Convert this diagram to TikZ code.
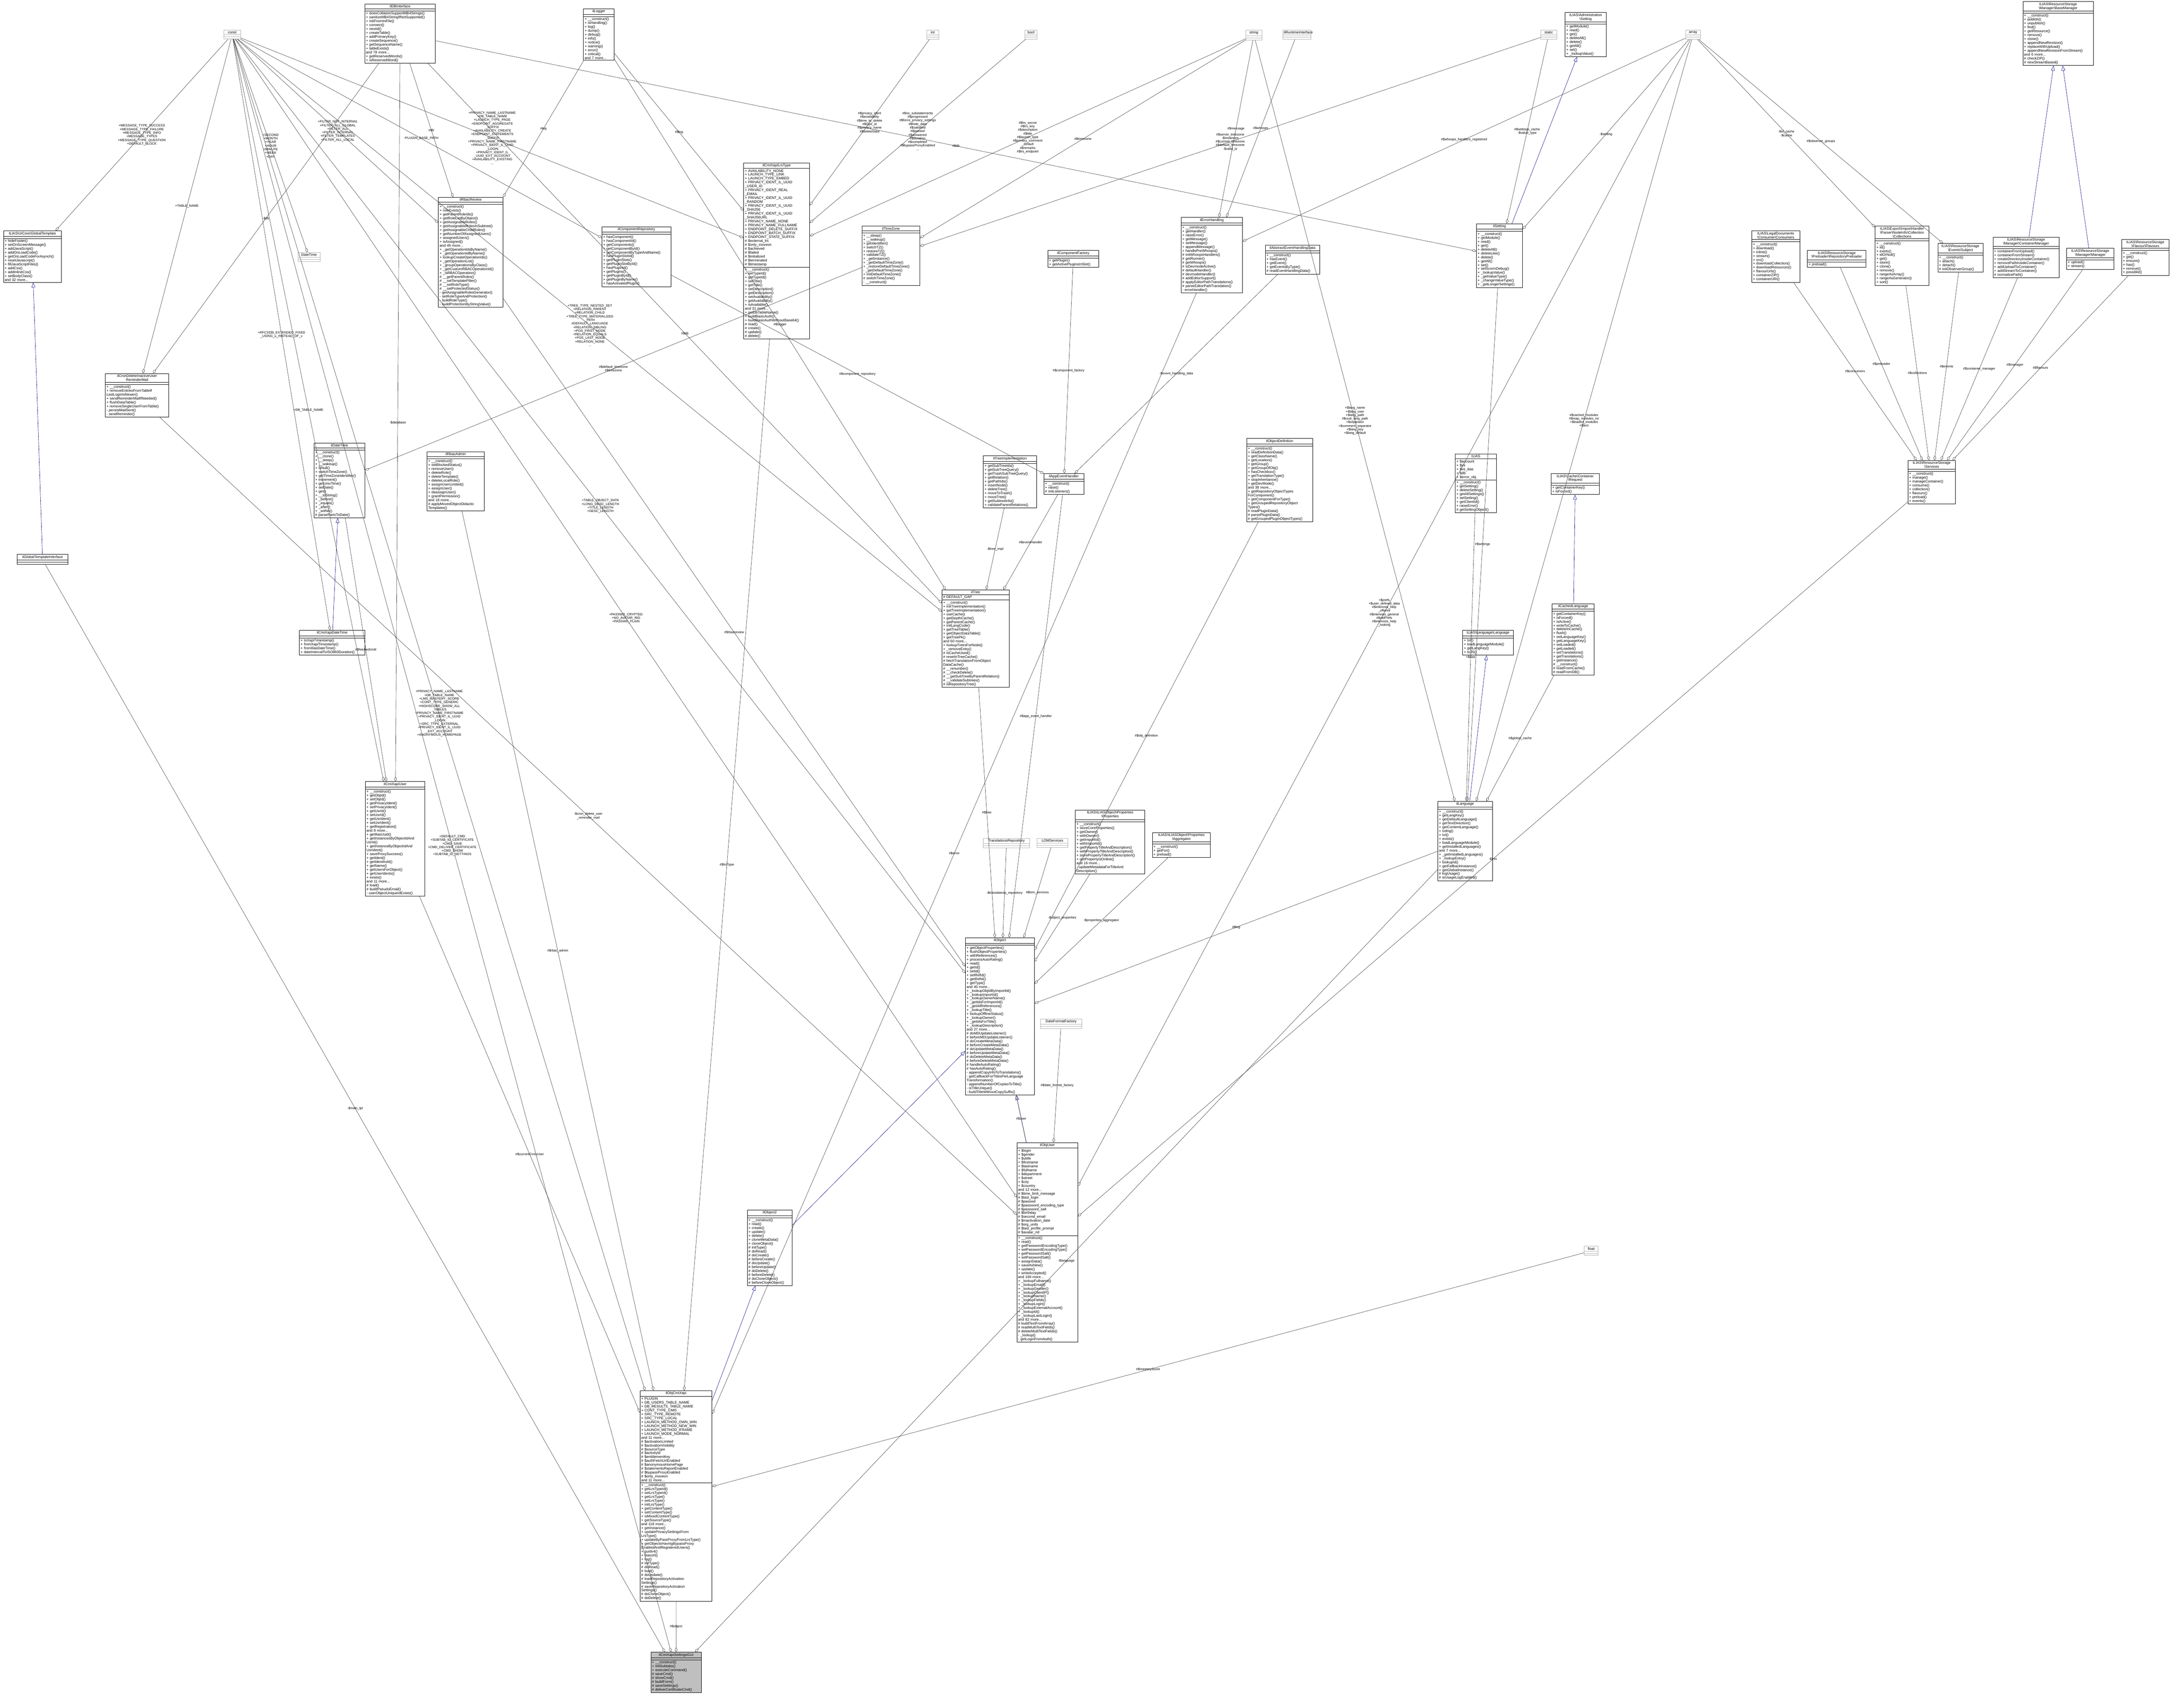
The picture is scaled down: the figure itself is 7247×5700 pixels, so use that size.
\documentclass[tikz,border=0pt]{standalone}
\usepackage{fontspec}
\setmainfont{Liberation Sans}
\usetikzlibrary{shapes.multipart,arrows.meta}
\tikzset{
  x=1pt,y=1pt,
  cls/.style={rectangle split, rectangle split parts=3, draw=black, line width=1.2pt,
    font=\fontsize{12}{13}\selectfont, align=left, inner xsep=4pt, inner ysep=3pt,
    rectangle split empty part height=12pt, anchor=north west, fill=white},
  grayc/.style={draw=gray!60},
  focus/.style={fill=gray!50},
  aggr/.style={draw=black!80, line width=0.9pt, -{Diamond[open,length=16pt,width=9pt]}},
  inh/.style={draw=blue!50!black, line width=0.9pt, -{Triangle[open,length=16pt,width=12pt]}},
  lbl/.style={font=\fontsize{11}{12}\selectfont, align=center, text=black},
}
\newcommand{\cbox}[8][]{\node[cls,#1,text width=#5-8] (#2) at (#3,-#4) {{\centering #6\par}\nodepart{two}#7\nodepart{three}#8};}
\newcommand{\agg}[4][]{\draw[aggr,#1] (#2) -- node[lbl]{#4} (#3);}
\newcommand{\inhe}[2]{\draw[inh] (#1) -- (#2);}
\begin{document}
\begin{tikzpicture}
\useasboundingbox (0,0) rectangle (7247,-5700);
% ---- top row primitives ----
\cbox[grayc]{const}{746}{100}{57}{const}{}{}
\cbox[grayc]{int}{3093}{100}{40}{int}{}{}
\cbox[grayc]{bool}{3421}{100}{40}{bool}{}{}
\cbox[grayc]{string}{4158}{100}{54}{string}{}{}
\cbox[grayc]{runtime}{4281}{100}{94}{ilRuntimeInterface}{}{}
\cbox[grayc]{static}{5142}{100}{54}{static}{}{}
\cbox[grayc]{array}{5626}{100}{50}{array}{}{}
\cbox{dbi}{1217}{13}{236}{ilDBInterface}{}{+ doesCollationSupportMB4Strings()\\+ sanitizeMB4StringIfNotSupported()\\+ initFromIniFile()\\+ connect()\\+ nextId()\\+ createTable()\\+ addPrimaryKey()\\+ createSequence()\\+ getSequenceName()\\+ tableExists()\\and 78 more...\\+ getReservedWords()\\+ isReservedWord()}
\cbox{logger}{1947}{29}{103}{ilLogger}{}{+ \_\_construct()\\+ isHandling()\\+ log()\\+ dump()\\+ debug()\\+ info()\\+ notice()\\+ warning()\\+ error()\\+ critical()\\and 7 more...}
\cbox{admset}{5224}{41}{137}{ILIAS\textbackslash Administration\\\textbackslash Setting}{}{+ getModule()\\+ read()\\+ get()\\+ deleteAll()\\+ delete()\\+ getAll()\\+ set()\\+ \_lookupValue()}
\cbox{basemgr}{6752}{5}{235}{ILIAS\textbackslash ResourceStorage\\\textbackslash Manager\textbackslash BaseManager}{}{+ \_\_construct()\\+ publish()\\+ unpublish()\\+ find()\\+ getResource()\\+ remove()\\+ clone()\\+ appendNewRevision()\\+ replaceWithUpload()\\+ appendNewRevisionFromStream()\\and 6 more...\\\# checkZIP()\\\# newStreamBased()}
% ---- second row ----
\cbox{gtpl}{11}{770}{193}{ILIAS\textbackslash UICore\textbackslash GlobalTemplate}{}{+ hideFooter()\\+ setOnScreenMessage()\\+ addJavaScript()\\+ addOnLoadCode()\\+ getOnLoadCodeForAsynch()\\+ resetJavascript()\\+ fillJavaScriptFiles()\\+ addCss()\\+ addInlineCss()\\+ setBodyClass()\\and 32 more...}
\cbox{cron}{351}{1246}{212}{ilCronDeleteInactiveUser\\ReminderMail}{}{+ \_\_construct()\\+ removeEntriesFromTableIf\\LastLoginIsNewer()\\+ sendReminderMailIfNeeded()\\+ flushDataTable()\\+ removeSingleUserFromTable()\\- persistMailSent()\\- sendReminder()}
\cbox[grayc]{datetime}{994}{842}{74}{DateTime}{}{}
\cbox{rbacreview}{1463}{658}{215}{ilRbacReview}{}{+ \_\_construct()\\+ roleExists()\\+ getParentRoleIds()\\+ getRoleListByObject()\\+ getAssignableRoles()\\+ getAssignableRolesInSubtree()\\+ getAssignableChildRoles()\\+ getNumberOfAssignedUsers()\\+ assignedUsers()\\+ isAssigned()\\and 49 more...\\+ \_getOperationIdsByName()\\+ \_getOperationIdByName()\\+ lookupCreateOperationIds()\\+ \_getOperationList()\\+ \_groupOperationsByClass()\\+ \_getCustomRBACOperationId()\\+ \_isRBACOperation()\\\# \_\_getParentRoles()\\\# \_\_setTemplateFilter()\\\# \_\_setRoleType()\\\# \_\_setProtectedStatus()\\- getAssignableRolesGenerator()\\- setRoleTypeAndProtection()\\- buildRoleType()\\- buildProtectionByStringValue()}
\cbox{comprepo}{2009}{756}{230}{ilComponentRepository}{}{+ hasComponent()\\+ hasComponentId()\\+ getComponents()\\+ getComponentById()\\+ getComponentByTypeAndName()\\+ hasPluginSlotId()\\+ getPluginSlots()\\+ getPluginSlotById()\\+ hasPluginId()\\+ getPlugins()\\+ getPluginById()\\+ getPluginByName()\\+ hasActivatedPlugin()}
\cbox{lrstype}{2482}{543}{220}{ilCmiXapiLrsType}{+ AVAILABILITY\_NONE\\+ LAUNCH\_TYPE\_LINK\\+ LAUNCH\_TYPE\_EMBED\\+ PRIVACY\_IDENT\_IL\_UUID\\\_USER\_ID\\+ PRIVACY\_IDENT\_REAL\\\_EMAIL\\+ PRIVACY\_IDENT\_IL\_UUID\\\_RANDOM\\+ PRIVACY\_IDENT\_IL\_UUID\\\_SHA256\\+ PRIVACY\_IDENT\_IL\_UUID\\\_SHA256URL\\+ PRIVACY\_NAME\_NONE\\+ PRIVACY\_NAME\_FULLNAME\\+ ENDPOINT\_DELETE\_SUFFIX\\+ ENDPOINT\_BATCH\_SUFFIX\\+ ENDPOINT\_STATE\_SUFFIX\\\# \$external\_lrs\\\# \$only\_moveon\\\# \$achieved\\\# \$failed\\\# \$initialized\\\# \$terminated\\\# \$timestamp}{+ \_\_construct()\\+ setTypeId()\\+ getTypeId()\\+ setTitle()\\+ getTitle()\\+ setDescription()\\+ getDescription()\\+ setAvailability()\\+ getAvailability()\\+ isAvailable()\\and 31 more...\\+ getDbTableName()\\+ buildBasicAuth()\\+ buildBasicAuthWithoutBase64()\\\# read()\\\# create()\\\# update()\\\# delete()}
\cbox{timezone}{2877}{754}{193}{ilTimeZone}{}{+ \_\_sleep()\\+ \_\_wakeup()\\+ getIdentifier()\\+ switchTZ()\\+ restoreTZ()\\+ validateTZ()\\+ \_getInstance()\\+ \_getDefaultTimeZone()\\+ \_restoreDefaultTimeZone()\\- \_getDefaultTimeZone()\\+ initDefaultTimeZone()\\\# switchTimeZone()\\- \_\_construct()}
\cbox{compfact}{3497}{835}{170}{ilComponentFactory}{}{+ getPlugin()\\+ getActivePluginsInSlot()}
\cbox{errh}{3942}{725}{205}{ilErrorHandling}{}{+ \_\_construct()\\+ getHandler()\\+ raiseError()\\+ getMessage()\\+ setMessage()\\+ appendMessage()\\+ handlePreWhoops()\\\# initWhoopsHandlers()\\\# getRunner()\\\# getWhoops()\\\# isDevmodeActive()\\\# defaultHandler()\\\# devmodeHandler()\\\# addEditorSupport()\\\# applyEditorPathTranslations()\\\# parseEditorPathTranslation()\\- errorHandler()}
\cbox{evdata}{4223}{818}{182}{ilAbstractEventHandlingData}{}{+ \_\_construct()\\+ hasEvent()\\+ getEvent()\\+ getEventsByType()\\\# readEventHandlingData()}
\cbox{setting}{4928}{746}{154}{ilSetting}{}{+ \_\_construct()\\+ getModule()\\+ read()\\+ get()\\+ deleteAll()\\+ deleteLike()\\+ delete()\\+ getAll()\\+ set()\\+ setScormDebug()\\+ \_lookupValue()\\+ \_getValueType()\\+ \_changeValueType()\\+ \_getLongerSettings()}
\cbox{consumers}{5847}{770}{160}{ILIAS\textbackslash LegalDocuments\\\textbackslash Consumer\textbackslash Consumers}{}{+ \_\_construct()\\+ download()\\+ inline()\\+ stream()\\+ src()\\+ downloadCollection()\\+ downloadResources()\\+ flavourUrls()\\+ containerZIP()\\+ containerURI()}
\cbox{preloader}{6033}{835}{195}{ILIAS\textbackslash ResourceStorage\\\textbackslash Preloader\textbackslash RepositoryPreloader}{}{+ preload()}
\cbox{collections}{6259}{754}{179}{ILIAS\textbackslash Export\textbackslash ImportHandler\\\textbackslash Parser\textbackslash NodeInfo\textbackslash Collection\\\textbackslash Collections}{}{+ \_\_construct()\\+ id()\\+ exists()\\+ idOrNull()\\+ get()\\+ store()\\+ clone()\\+ remove()\\+ rangeAsArray()\\+ rangeAsGenerator()\\+ sort()}
\cbox{subject}{6468}{812}{151}{ILIAS\textbackslash ResourceStorage\\\textbackslash Events\textbackslash Subject}{}{+ \_\_construct()\\+ attach()\\+ detach()\\\# initObserverGroup()}
\cbox{contmgr}{6652}{791}{221}{ILIAS\textbackslash ResourceStorage\\\textbackslash Manager\textbackslash ContainerManager}{}{+ containerFromUpload()\\+ containerFromStream()\\+ createDirectoryInsideContainer()\\+ removePathInsideContainer()\\+ addUploadToContainer()\\+ addStreamToContainer()\\\# normalizePath()}
\cbox{manager}{6898}{828}{158}{ILIAS\textbackslash ResourceStorage\\\textbackslash Manager\textbackslash Manager}{}{+ upload()\\+ stream()}
\cbox{flavours}{7082}{799}{158}{ILIAS\textbackslash ResourceStorage\\\textbackslash Flavour\textbackslash Flavours}{}{+ \_\_construct()\\+ get()\\+ ensure()\\+ has()\\+ remove()\\+ possible()}
% ---- third row ----
\cbox{gtplif}{57}{1850}{169}{ilGlobalTemplateInterface}{}{}
\cbox{ildatetime}{1048}{1478}{169}{ilDateTime}{}{+ \_\_construct()\\+ \_\_clone()\\+ \_\_sleep()\\+ \_\_wakeup()\\+ isNull()\\+ switchTimeZone()\\+ getTimeZoneIdentifier()\\+ increment()\\+ getUnixTime()\\+ setDate()\\+ get()\\+ \_\_toString()\\+ \_before()\\+ \_equals()\\+ \_after()\\+ \_within()\\\# parsePartsToDate()}
\cbox{rbacadmin}{1425}{1507}{191}{ilRbacAdmin}{}{+ \_\_construct()\\+ setBlockedStatus()\\+ removeUser()\\+ deleteRole()\\+ deleteTemplate()\\+ deleteLocalRole()\\+ assignUserLimited()\\+ assignUser()\\+ deassignUser()\\+ grantPermission()\\and 18 more...\\\# applyMovedObjectDidactic\\Templates()}
\cbox{xapidt}{999}{2103}{218}{ilCmiXapiDateTime}{}{+ toXapiTimestamp()\\+ fromXapiTimestamp()\\+ fromIliasDateTime()\\+ dateIntervalToISO860Duration()}
\cbox{xapiuser}{1219}{2608}{199}{ilCmiXapiUser}{}{+ \_\_construct()\\+ getObjId()\\+ setObjId()\\+ getPrivacyIdent()\\+ setPrivacyIdent()\\+ getUsrId()\\+ setUsrId()\\+ getUsrIdent()\\+ setUsrIdent()\\+ getRegistration()\\and 8 more...\\+ getIliasUuid()\\+ getInstancesByObjectIdAnd\\UsrId()\\+ getInstanceByObjectIdAnd\\UsrIdent()\\+ saveProxySuccess()\\+ getIdent()\\+ getIdentAsId()\\+ getName()\\+ getUsersForObject()\\+ getUserIdents()\\+ exists()\\and 11 more...\\\# load()\\\# buildPseudoEmail()\\- userObjectUniqueIdExists()}
\cbox{treeimpl}{3282}{1521}{177}{ilTreeImplementation}{}{+ getSubTreeIds()\\+ getSubTreeQuery()\\+ getTrashSubTreeQuery()\\+ getRelation()\\+ getPathIds()\\+ insertNode()\\+ deleteTree()\\+ moveToTrash()\\+ moveTree()\\+ getSubtreeInfo()\\+ validateParentRelations()}
\cbox{appev}{3484}{1580}{133}{ilAppEventHandler}{}{+ \_\_construct()\\+ raise()\\\# initListeners()}
\cbox{objdef}{4161}{1463}{220}{ilObjectDefinition}{}{+ \_\_construct()\\+ readDefinitionData()\\+ getClassName()\\+ getLocation()\\+ getGroup()\\+ getGroupOfObj()\\+ hasCheckbox()\\+ getTranslationType()\\+ stopInheritance()\\+ getDevMode()\\and 38 more...\\+ getRepositoryObjectTypes\\ForComponent()\\+ getComponentForType()\\+ getGroupedRepositoryObject\\Types()\\\# readPluginData()\\\# parsePluginData()\\\# getGroupedPluginObjectTypes()}
\cbox{ilias}{4857}{1515}{138}{ILIAS}{+ \$account\\+ \$ini\\+ \$ini\_ilias\\+ \$db\\+ \$error\_obj}{+ \_\_construct()\\+ getSetting()\\+ deleteSetting()\\+ getAllSettings()\\+ setSetting()\\+ getClientId()\\+ raiseError()\\\# getSettingObject()}
\cbox{request}{5177}{1580}{161}{ILIAS\textbackslash Cache\textbackslash Container\\\textbackslash Request}{}{+ getContainerKey()\\+ isForced()}
\cbox{services}{6368}{1536}{159}{ILIAS\textbackslash ResourceStorage\\\textbackslash Services}{}{+ \_\_construct()\\+ manage()\\+ manageContainer()\\+ consume()\\+ collection()\\+ flavours()\\+ preload()\\+ events()}
\cbox{iltree}{3144}{1968}{224}{ilTree}{\# DEFAULT\_GAP}{+ \_\_construct()\\+ initTreeImplementation()\\+ getTreeImplementation()\\+ useCache()\\+ getDepthCache()\\+ getParentCache()\\+ initLangCode()\\+ getTreeTable()\\+ getObjectDataTable()\\+ getTreePk()\\and 60 more...\\+ lookupTreesForNode()\\+ \_removeEntry()\\\# isCacheUsed()\\\# resetInTreeCache()\\\# fetchTranslationFromObject\\DataCache()\\\# \_\_renumber()\\\# \_\_checkDelete()\\\# \_\_getSubTreeByParentRelation()\\\# \_\_validateSubtrees()\\\# isRepositoryTree()}
\cbox{cachedlng}{5180}{2014}{141}{ilCachedLanguage}{}{+ getContainerKey()\\+ isForced()\\+ isActive()\\+ writeToCache()\\+ deleteInCache()\\+ flush()\\+ setLanguageKey()\\+ getLanguageKey()\\+ setLoaded()\\+ getLoaded()\\+ setTranslations()\\+ getTranslations()\\+ getInstance()\\\# \_\_construct()\\\# readFromCache()\\\# readFromDB()}
\cbox{langlang}{4882}{2103}{169}{ILIAS\textbackslash Language\textbackslash Language}{}{+ txt()\\+ loadLanguageModule()\\+ getLangKey()\\+ toJS()}
\cbox{illang}{4799}{2674}{182}{ilLanguage}{}{+ \_\_construct()\\+ getLangKey()\\+ getDefaultLanguage()\\+ getTextDirection()\\+ getContentLanguage()\\+ txtlng()\\+ txt()\\+ exists()\\+ loadLanguageModule()\\+ getInstalledLanguages()\\and 7 more...\\+ \_getInstalledLanguages()\\+ \_lookupEntry()\\+ lookupId()\\+ getFallbackInstance()\\+ getGlobalInstance()\\\# logUsage()\\\# isUsageLogEnabled()}
\cbox{props}{3589}{2703}{232}{ILIAS\textbackslash ILIASObject\textbackslash Properties\\\textbackslash Properties}{}{+ \_\_construct()\\+ storeCoreProperties()\\+ getOwner()\\+ withOwner()\\+ getImportId()\\+ withImportId()\\+ getPropertyTitleAndDescription()\\+ withPropertyTitleAndDescription()\\+ storePropertyTitleAndDescription()\\+ getPropertyIsOnline()\\and 16 more...\\- updateMetadataForTitleAnd\\Description()}
\cbox[grayc]{transrepo}{3282}{2797}{154}{TranslationsRepository}{}{}
\cbox[grayc]{lom}{3461}{2797}{103}{LOMServices}{}{}
\cbox{aggreg}{3846}{2778}{194}{ILIAS\textbackslash ILIASObject\textbackslash Properties\\\textbackslash Aggregator}{}{+ \_\_construct()\\+ getFor()\\+ preload()}
% ---- lower part ----
\cbox{ilobject}{3222}{3129}{230}{ilObject}{}{+ getObjectProperties()\\+ flushObjectProperties()\\+ withReferences()\\+ processAutoRating()\\+ read()\\+ getId()\\+ setId()\\+ setRefId()\\+ getRefId()\\+ getType()\\and 40 more...\\+ \_lookupObjIdByImportId()\\+ \_lookupImportId()\\+ \_lookupOwnerName()\\+ \_getIdsForImportId()\\+ \_getAllReferences()\\+ \_lookupTitle()\\+ lookupOfflineStatus()\\+ \_lookupOwner()\\+ \_getIdsForTitle()\\+ \_lookupDescription()\\and 27 more...\\\# doMDUpdateListener()\\\# beforeMDUpdateListener()\\\# doCreateMetaData()\\\# beforeCreateMetaData()\\\# doUpdateMetaData()\\\# beforeUpdateMetaData()\\\# doDeleteMetaData()\\\# beforeDeleteMetaData()\\\# handleAutoRating()\\\# hasAutoRating()\\- appendCopyInfoToTranslations()\\- getCallbackForTitlesPerLanguage\\Transformation()\\- appendNumberOfCopiesToTitle()\\- isTitleUnique()\\- buildTitleWithoutCopySuffix()}
\cbox[grayc]{datefmt}{3473}{3400}{137}{DateFormatFactory}{}{}
\cbox{objuser}{3394}{3813}{203}{ilObjUser}{+ \$login\\+ \$gender\\+ \$utitle\\+ \$firstname\\+ \$lastname\\+ \$fullname\\+ \$department\\+ \$street\\+ \$city\\+ \$country\\and 12 more...\\\# \$time\_limit\_message\\\# \$last\_login\\\# \$passwd\\\# \$password\_encoding\_type\\\# \$password\_salt\\\# \$birthday\\\# \$second\_email\\\# \$inactivation\_date\\\# \$org\_units\\\# \$last\_profile\_prompt\\\# \$avatar\_rid}{+ \_\_construct()\\+ read()\\+ getPasswordEncodingType()\\+ setPasswordEncodingType()\\+ getPasswordSalt()\\+ setPasswordSalt()\\+ assignData()\\+ saveAsNew()\\+ update()\\+ writeAccepted()\\and 169 more...\\+ \_lookupFullname()\\+ \_lookupEmail()\\+ \_lookupGender()\\+ \_lookupClientIP()\\+ \_lookupName()\\+ \_lookupFields()\\+ \_lookupLogin()\\+ \_lookupExternalAccount()\\+ \_lookupId()\\+ \_lookupLastLogin()\\and 82 more...\\\# buildTextFromArray()\\\# readMultiTextFields()\\\# deleteMultiTextFields()\\- \_lookup()\\- getLoginFromAuth()}
\cbox{ilobject2}{2494}{4038}{150}{ilObject2}{}{+ \_\_construct()\\+ read()\\+ create()\\+ update()\\+ delete()\\+ cloneMetaData()\\+ cloneObject()\\\# initType()\\\# doRead()\\\# doCreate()\\\# beforeCreate()\\\# doUpdate()\\\# beforeUpdate()\\\# doDelete()\\\# beforeDelete()\\\# doCloneObject()\\\# beforeCloneObject()}
\cbox[grayc]{float}{5288}{4159}{46}{float}{}{}
\cbox{objcmi}{2136}{4641}{240}{ilObjCmiXapi}{+ PLUGIN\\+ DB\_USERS\_TABLE\_NAME\\+ DB\_RESULTS\_TABLE\_NAME\\+ CONT\_TYPE\_CMI5\\+ SRC\_TYPE\_REMOTE\\+ SRC\_TYPE\_LOCAL\\+ LAUNCH\_METHOD\_OWN\_WIN\\+ LAUNCH\_METHOD\_NEW\_WIN\\+ LAUNCH\_METHOD\_IFRAME\\+ LAUNCH\_MODE\_NORMAL\\and 11 more...\\\# \$activationLimited\\\# \$activationVisibility\\\# \$sourceType\\\# \$activityId\\\# \$entitlementKey\\\# \$authFetchUrlEnabled\\\# \$anonymousHomePage\\\# \$statementsReportEnabled\\\# \$bypassProxyEnabled\\\# \$only\_moveon\\and 11 more...}{+ \_\_construct()\\+ getLrsTypeId()\\+ setLrsTypeId()\\+ getLrsType()\\+ setLrsType()\\+ initLrsType()\\+ getContentType()\\+ setContentType()\\+ isMixedContentType()\\+ getSourceType()\\and 118 more...\\+ getInstance()\\+ updatePrivacySettingsFrom\\LrsType()\\+ updateByPassProxyFromLrsType()\\+ getObjectsHavingBypassProxy\\EnabledAndRegisteredUsers()\\+ guidv4()\\+ iliasUrl()\\+ log()\\\# initType()\\\# doRead()\\\# load()\\\# doUpdate()\\\# loadRepositoryActivation\\Settings()\\\# saveRepositoryActivation\\Settings()\\\# doCloneObject()\\\# doDelete()}
\cbox[focus]{gui}{2172}{5514}{169}{ilCmiXapiSettingsGUI}{}{+ \_\_construct()\\+ initSubtabs()\\+ executeCommand()\\\# saveCmd()\\\# showCmd()\\\# buildForm()\\\# saveSettings()\\\# deliverCertificateCmd()}
% ---- inheritance ----
\inhe{gtplif}{gtpl}
\inhe{setting}{admset}
\inhe{contmgr}{basemgr}
\inhe{manager}{basemgr}
\inhe{cachedlng}{request}
\inhe{illang}{langlang}
\inhe{xapidt}{ildatetime}
\inhe{objuser}{ilobject}
\inhe{ilobject2}{ilobject}
\inhe{objcmi}{ilobject2}
% ---- aggregations ----
\agg{const}{gtpl}{+MESSAGE\_TYPE\_SUCCESS\\+MESSAGE\_TYPE\_FAILURE\\+MESSAGE\_TYPE\_INFO\\+MESSAGE\_TYPES\\+MESSAGE\_TYPE\_QUESTION\\+DEFAULT\_BLOCK}
\agg{const}{cron}{+TABLE\_NAME}
\agg{const}{rbacreview}{+FILTER\_NOT\_INTERNAL\\+FILTER\_ALL\_GLOBAL\\+FILTER\_ALL\\+FILTER\_INTERNAL\\+FILTER\_TEMPLATES\\+FILTER\_ALL\_LOCAL}
\agg{const}{comprepo}{-PLUGIN\_BASE\_PATH}
\agg{const}{lrstype}{+PRIVACY\_NAME\_LASTNAME\\+DB\_TABLE\_NAME\\+LAUNCH\_TYPE\_PAGE\\+ENDPOINT\_AGGREGATE\\\_SUFFIX\\+AVAILABILITY\_CREATE\\+ENDPOINT\_STATEMENTS\\\_SUFFIX\\+PRIVACY\_NAME\_FIRSTNAME\\+PRIVACY\_IDENT\_IL\_UUID\\\_LOGIN\\+PRIVACY\_IDENT\_IL\\\_UUID\_EXT\_ACCOUNT\\+AVAILABILITY\_EXISTING\\...}
\agg{const}{datetime}{+SECOND\\+MONTH\\+YEAR\\+HOUR\\+MINUTE\\+WEEK\\+DAY}
\agg{const}{iltree}{+TREE\_TYPE\_NESTED\_SET\\+RELATION\_PARENT\\+RELATION\_CHILD\\+TREE\_TYPE\_MATERIALIZED\\\_PATH\\\#DEFAULT\_LANGUAGE\\+RELATION\_SIBLING\\+POS\_FIRST\_NODE\\+RELATION\_EQUALS\\+POS\_LAST\_NODE\\+RELATION\_NONE\\...}
\agg{const}{xapidt}{+RFC3339\_EXTENDED\_FIXED\\\_USING\_u\_INSTEAD\_OF\_v}
\agg{const}{ilobject}{+TABLE\_OBJECT\_DATA\\+LONG\_DESC\_LENGTH\\+TITLE\_LENGTH\\+DESC\_LENGTH}
\agg{const}{objuser}{+PASSWD\_CRYPTED\\+NO\_AVATAR\_RID\\+PASSWD\_PLAIN}
\agg{const}{xapiuser}{+DB\_TABLE\_NAME}
\agg{const}{objcmi}{+PRIVACY\_NAME\_LASTNAME\\+DB\_TABLE\_NAME\\+LMS\_MASTERY\_SCORE\\+CONT\_TYPE\_GENERIC\\+HIGHSCORE\_SHOW\_ALL\\\_TABLES\\+PRIVACY\_NAME\_FIRSTNAME\\+PRIVACY\_IDENT\_IL\_UUID\\\_LOGIN\\+SRC\_TYPE\_EXTERNAL\\+PRIVACY\_IDENT\_IL\_UUID\\\_EXT\_ACCOUNT\\+ANONYMOUS\_HOMEPAGE\\...}
\agg{const}{gui}{+DEFAULT\_CMD\\+SUBTAB\_ID\_CERTIFICATE\\+CMD\_SAVE\\+CMD\_DELIVER\_CERTIFICATE\\+CMD\_SHOW\\+SUBTAB\_ID\_SETTINGS}
\agg{dbi}{rbacreview}{\#db}
\agg{dbi}{cron}{-\$db}
\agg{dbi}{xapiuser}{-\$database}
\agg{dbi}{iltree}{\#\$db}
\agg{dbi}{setting}{\#\$db}
\agg{logger}{rbacreview}{\#log}
\agg{logger}{iltree}{\#\$logger}
\agg{logger}{lrstype}{\#\$log}
\agg{int}{lrstype}{\#\$privacy\_ident\\\#\$availability\\\#\$time\_to\_delete\\\#\$type\_id\\\#\$privacy\_name\\\#\$deleteData}
\agg{bool}{lrstype}{\#\$no\_substatements\\\#\$progressed\\\#\$force\_privacy\_settings\\\#\$hide\_data\\\#\$satisfied\\\#\$passed\\\#\$answered\\\#\$duration\\\#\$completed\\\#\$bypassProxyEnabled\\...}
\agg{string}{lrstype}{\#\$lrs\_secret\\\#\$lrs\_key\\\#\$description\\\#\$title\\\#\$launch\_type\\\#\$privacy\_comment\\\_default\\\#\$remarks\\\#\$lrs\_endpoint}
\agg{string}{timezone}{\#\$timezone}
\agg{string}{errh}{\#\$message}
\agg{runtime}{errh}{\#\$whoops}
\agg{static}{timezone}{\#\$server\_timezone\\-\$instances\\\#\$current\_timezone\\\#\$default\_timezone\\-\$valid\_tz}
\agg{array}{errh}{\#\$whoops\_handlers\_registered}
\agg{static}{setting}{\#\$settings\_cache\\-\$value\_type}
\agg{array}{setting}{-\$setting}
\agg{array}{collections}{-\$id\_cache\\-\$cache}
\agg{array}{subject}{\#\$observer\_groups}
\agg{array}{objuser}{+\$prefs\\+\$user\_defined\_data\\\#\$interests\_help\\\_offered\\\#\$interests\_general\\\#\$oldPrefs\\\#\$interests\_help\\\_looking}
\agg{array}{illang}{\#\$cached\_modules\\\#\$map\_modules\_txt\\+\$loaded\_modules\\+\$text}
\agg{string}{illang}{+\$lang\_name\\+\$lang\_user\\+\$lang\_path\\\#\$cust\_lang\_path\\+\$separator\\+\$comment\_separator\\+\$lang\_key\\+\$lang\_default}
\agg{consumers}{services}{\#\$consumers}
\agg{preloader}{services}{\#\$preloader}
\agg{collections}{services}{\#\$collections}
\agg{subject}{services}{\#\$events}
\agg{contmgr}{services}{\#\$container\_manager}
\agg{manager}{services}{\#\$manager}
\agg{flavours}{services}{\#\$flavours}
\agg{services}{objuser}{-\$irss}
\agg{timezone}{ildatetime}{\#\$default\_timezone\\\#\$timezone}
\agg{ildatetime}{xapiuser}{\#\$fetchedUntil}
\agg{rbacadmin}{objcmi}{\#\$rbac\_admin}
\agg{rbacreview}{ilobject}{\#\$rbacreview}
\agg{lrstype}{objcmi}{\#\$lrsType}
\agg{cron}{objuser}{-\$cron\_delete\_user\\\_reminder\_mail}
\agg{xapiuser}{objcmi}{\#\$currentCmixUser}
\agg{gtplif}{gui}{-\$main\_tpl}
\agg{transrepo}{ilobject}{-\$translations\_repository}
\agg{lom}{ilobject}{\#\$lom\_services}
\agg{props}{ilobject}{-\$object\_properties}
\agg{aggreg}{ilobject}{-\$properties\_aggregator}
\agg{iltree}{ilobject}{\#\$tree}
\agg{appev}{ilobject}{\#\$app\_event\_handler}
\agg{objdef}{ilobject}{\#\$obj\_definition}
\agg{treeimpl}{iltree}{-\$tree\_impl}
\agg{appev}{iltree}{\#\$eventHandler}
\agg{evdata}{appev}{-\$event\_handling\_data}
\agg{compfact}{appev}{\#\$component\_factory}
\agg{comprepo}{appev}{\#\$component\_repository}
\agg{objuser}{ilobject}{\#\$user}
\agg{datefmt}{objuser}{\#\$date\_format\_factory}
\agg{illang}{ilobject}{\#\$lng}
\agg{illang}{gui}{-\$language}
\agg{cachedlng}{illang}{\#\$global\_cache}
\agg{ilias}{illang}{+\$ilias}
\agg{errh}{objcmi}{\#\$error}
\agg{setting}{illang}{\#\$settings}
\agg{float}{objcmi}{\#\$masteryScore}
\agg{objcmi}{gui}{\#\$object}
\end{tikzpicture}
\end{document}
